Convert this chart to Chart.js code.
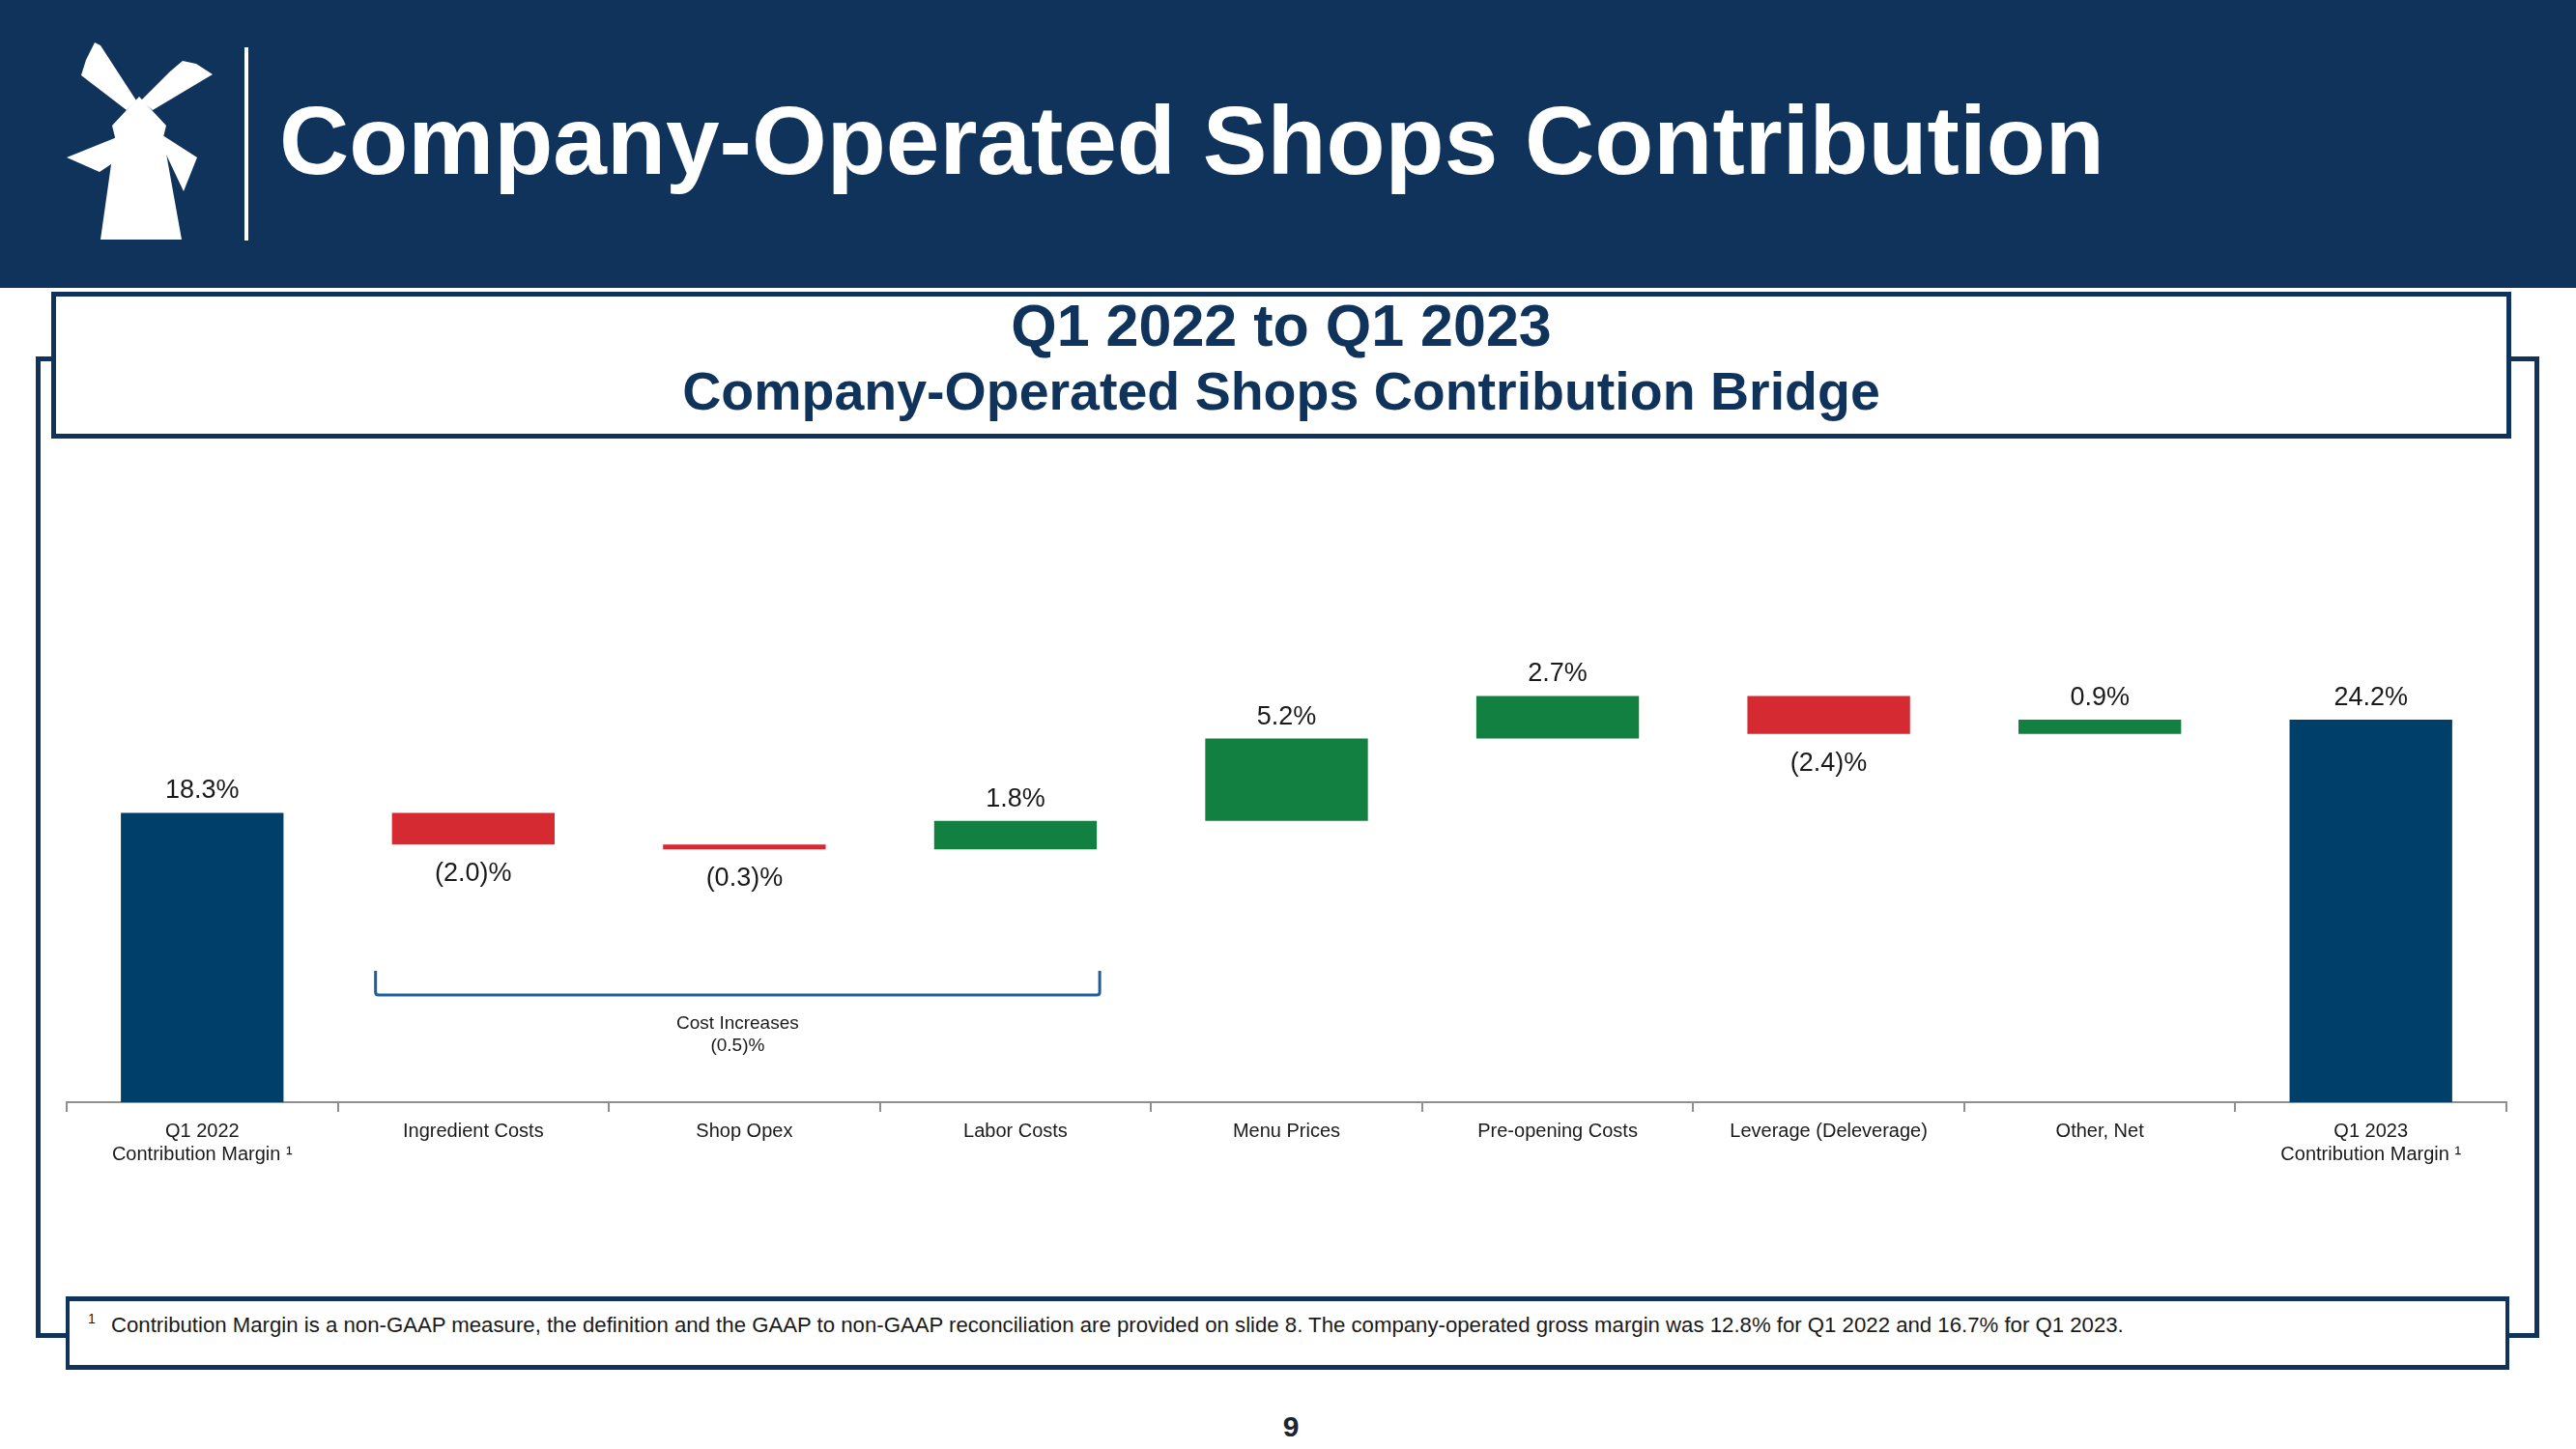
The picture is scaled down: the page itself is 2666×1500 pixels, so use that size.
<!DOCTYPE html>
<html>
<head>
<meta charset="utf-8">
<script src="https://cdn.jsdelivr.net/npm/chart.js@4.4.0/dist/chart.umd.min.js"></script>
<style>
  html, body { margin: 0; padding: 0; background: #fff; }
  body { width: 2666px; height: 1500px; position: relative; overflow: hidden; font-family: "Liberation Sans", Arial, sans-serif; }
  .header { position: absolute; left: 0; top: 0; width: 2666px; height: 298px; background: #0f335a; }
  .divider { position: absolute; left: 253px; top: 49px; width: 4px; height: 200px; background: #fff; }
  .page-title { position: absolute; left: 289px; top: 95px; font-size: 100px; line-height: 100px; font-weight: bold; color: #fff; white-space: nowrap; }
  .frame { position: absolute; left: 37px; top: 369px; width: 2581px; height: 1006px; border: 5px solid #0f335a; }
  .title-box { position: absolute; left: 53px; top: 302px; width: 2536px; height: 142px; border: 5px solid #0f335a; background: #fff; }
  .title-line { position: absolute; left: 0; width: 100%; text-align: center; font-weight: bold; color: #0f335a; white-space: nowrap; }
  .note-box { position: absolute; left: 68px; top: 1342px; width: 2521px; height: 66px; border: 5px solid #0f335a; border-left-width: 4px; border-right-width: 4px; background: #fff; }
  .note { position: absolute; left: 115px; top: 1361px; font-size: 22.2px; line-height: 22px; color: #1a1a1a; white-space: nowrap; }
  .note-mark { position: absolute; left: 91px; top: 1358px; font-size: 14px; line-height: 14px; color: #1a1a1a; }
  .page-num { position: absolute; left: 1236px; width: 200px; text-align: center; top: 1462px; font-size: 30px; line-height: 30px; font-weight: bold; color: #1c2533; }
  #chart { position: absolute; left: 0; top: 600px; }
</style>
</head>
<body>
<div class="header"></div>
<svg style="position:absolute;left:0;top:0" width="260" height="298" viewBox="0 0 260 298">
  <g fill="#fff">
    <polygon points="98,44 104,47 141,104 131,114 84,78 89,62"/>
    <polygon points="189,63 203,66 220,77 158,114 146,104 176,74"/>
    <polygon points="126,140 69,163 103,178 136,156"/>
    <polygon points="162,136 204,163 190,198 172,160"/>
    <polygon points="144,100 172,130 169,142 188,248 104,248 119,142 116,130"/>
  </g>
</svg>
<div class="divider"></div>
<div class="page-title">Company-Operated Shops Contribution</div>

<div class="frame"></div>
<div class="title-box">
  <div class="title-line" style="top:0px;font-size:61px;line-height:60px;">Q1 2022 to Q1 2023</div>
  <div class="title-line" style="top:71px;font-size:55.5px;line-height:55px;">Company-Operated Shops Contribution Bridge</div>
</div>

<canvas id="chart" width="2666" height="660"></canvas>

<div class="note-box"></div>
<div class="note-mark">1</div>
<div class="note">Contribution Margin is a non-GAAP measure, the definition and the GAAP to non-GAAP reconciliation are provided on slide 8. The company-operated gross margin was 12.8% for Q1 2022 and 16.7% for Q1 2023.</div>
<div class="page-num">9</div>

<script>
// chart values
const categories = [
    ["Q1 2022", "Contribution Margin \u00b9"],
    "Ingredient Costs",
    "Shop Opex",
    "Labor Costs",
    "Menu Prices",
    "Pre-opening Costs",
    "Leverage (Deleverage)",
    "Other, Net",
    ["Q1 2023", "Contribution Margin \u00b9"]
];
const changes = [18.3, -2.0, -0.3, 1.8, 5.2, 2.7, -2.4, 0.9, 24.2];
const isTotal = [true, false, false, false, false, false, false, false, true];
const valueLabels = ["18.3%", "(2.0)%", "(0.3)%", "1.8%", "5.2%", "2.7%", "(2.4)%", "0.9%", "24.2%"];
// bracket under the three cost items
const bracketFrom = 1;
const bracketTo = 3;
const bracketText = ["Cost Increases", "(0.5)%"];

const NAVY = "#013f6b";
const GREEN = "#118041";
const RED = "#d62a32";

// build the floating bars from the running total
let running = 0;
const floating = changes.map((v, i) => {
    if (isTotal[i]) {
        running = v;
        return [0, v];
    }
    const start = running;
    running += v;
    return [start, running];
});
const barColors = changes.map((v, i) => isTotal[i] ? NAVY : (v >= 0 ? GREEN : RED));

const FONT = '"Liberation Sans", Arial, sans-serif';
Chart.defaults.font.family = FONT;

const valueLabelPlugin = {
    id: "valueLabels",
    afterDatasetsDraw(chart) {
        const ctx = chart.ctx;
        const y = chart.scales.y;
        const meta = chart.getDatasetMeta(0);
        ctx.save();
        ctx.font = "27px " + FONT;
        ctx.fillStyle = "#1a1a1a";
        ctx.textAlign = "center";
        ctx.textBaseline = "alphabetic";
        meta.data.forEach((bar, i) => {
            const [a, b] = floating[i];
            const top = y.getPixelForValue(Math.max(a, b));
            const bottom = y.getPixelForValue(Math.min(a, b));
            if (changes[i] < 0 && !isTotal[i]) {
                ctx.fillText(valueLabels[i], bar.x, bottom + 38);
            } else {
                ctx.fillText(valueLabels[i], bar.x, top - 15);
            }
        });
        ctx.restore();
    }
};

const bracketPlugin = {
    id: "bracket",
    afterDraw(chart) {
        const ctx = chart.ctx;
        const x = chart.scales.x;
        const meta = chart.getDatasetMeta(0);
        const half = meta.data[bracketFrom].width / 2;
        const left = x.getPixelForValue(bracketFrom) - half - 17;
        const right = x.getPixelForValue(bracketTo) + half + 3;
        const base = chart.chartArea.bottom;
        const lineY = base - 111;
        ctx.save();
        ctx.strokeStyle = "#1f5f99";
        ctx.lineWidth = 3;
        ctx.lineJoin = "round";
        ctx.beginPath();
        ctx.moveTo(left, lineY - 25);
        ctx.lineTo(left, lineY - 3);
        ctx.quadraticCurveTo(left, lineY, left + 3, lineY);
        ctx.lineTo(right - 3, lineY);
        ctx.quadraticCurveTo(right, lineY, right, lineY - 3);
        ctx.lineTo(right, lineY - 25);
        ctx.stroke();
        ctx.font = "19px " + FONT;
        ctx.fillStyle = "#1a1a1a";
        ctx.textAlign = "center";
        const cx = (left + right) / 2;
        ctx.fillText(bracketText[0], cx, lineY + 35);
        ctx.fillText(bracketText[1], cx, lineY + 58);
        ctx.restore();
    }
};

new Chart(document.getElementById("chart"), {
    type: "bar",
    data: {
        labels: categories,
        datasets: [{
            data: floating,
            backgroundColor: barColors,
            borderWidth: 0,
            barPercentage: 0.6,
            categoryPercentage: 1.0
        }]
    },
    options: {
        responsive: false,
        animation: false,
        devicePixelRatio: 1,
        layout: { padding: { top: 50, bottom: 9, left: 69, right: 72 } },
        plugins: { legend: { display: false }, tooltip: { enabled: false } },
        scales: {
            y: { display: false, min: 0, max: 30 },
            x: {
                afterFit: (scale) => { scale.height = 110; },
                border: { display: true, color: "#8f8f8f", width: 2 },
                grid: { display: true, drawOnChartArea: false, drawTicks: true, tickLength: 10, color: "#8f8f8f", lineWidth: 2, offset: true },
                ticks: { font: { size: 20 }, color: "#1a1a1a", padding: 8, maxRotation: 0, autoSkip: false }
            }
        }
    },
    plugins: [valueLabelPlugin, bracketPlugin]
});
</script>
</body>
</html>
